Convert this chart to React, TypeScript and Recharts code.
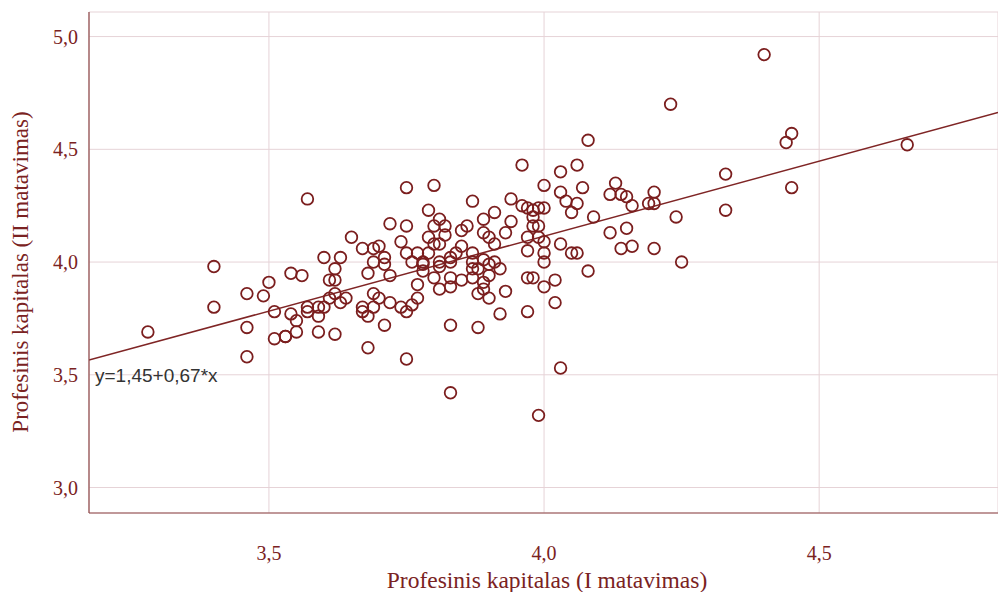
import React from 'react';
import { ScatterChart, Scatter, XAxis, YAxis, CartesianGrid, ReferenceLine, Label } from 'recharts';

// Profesinis kapitalas (I matavimas)
const measureI = [
  3.28, 3.40, 3.40, 3.46, 3.49, 3.50, 3.51, 3.46, 3.46, 3.51, 3.53,
  3.57, 3.75, 3.72, 3.75, 3.65, 3.74, 3.67, 3.69, 3.70, 3.75, 3.77, 3.60, 3.63, 3.71, 3.62, 3.69, 3.71, 3.76, 3.54, 3.56, 3.61, 3.62, 3.68, 3.72,
  3.77, 3.62, 3.61, 3.64, 3.69, 3.70, 3.77, 3.63, 3.57, 3.59, 3.60, 3.72, 3.76, 3.67, 3.69, 3.74, 3.75, 3.54, 3.57, 3.59, 3.67, 3.68, 3.55, 3.53, 3.55, 3.59, 3.62, 3.71, 3.68, 3.75,
  3.96, 3.80, 3.87, 3.94, 4.00, 3.79, 3.96, 3.97, 3.98, 3.99, 3.91, 3.89, 3.98, 3.81, 3.94, 3.86, 3.80, 3.82, 3.85, 3.98, 3.99, 3.89, 3.93, 3.82, 3.79, 3.90, 3.97, 3.99,
  3.80, 3.81, 3.85, 3.91, 3.97, 4.00, 3.79, 3.84, 3.87, 3.78, 3.78, 3.81, 3.83, 3.83, 3.87, 3.89, 3.90, 3.91, 3.92, 3.87, 3.88, 3.78, 3.81, 3.80, 3.83, 3.85, 3.87, 3.89, 3.90, 3.97, 3.98, 4.00, 3.81, 3.83, 3.89, 3.93, 3.88, 3.90, 3.92, 3.97, 3.83, 3.88,
  3.83, 3.99,
  4.08, 4.06, 4.03, 4.07, 4.03, 4.04, 4.00, 4.06, 4.05, 4.09, 4.13, 4.12, 4.14, 4.15, 4.20, 4.16, 4.19, 4.20, 4.12, 4.15,
  4.00, 4.03, 4.05, 4.06, 4.14, 4.16, 4.20, 4.00, 4.08, 4.02, 4.02,
  4.03,
  4.23, 4.45, 4.44, 4.33, 4.45, 4.33, 4.24, 4.25, 4.66, 4.40,
];

// Profesinis kapitalas (II matavimas)
const measureII = [
  3.69, 3.98, 3.80, 3.86, 3.85, 3.91, 3.78, 3.71, 3.58, 3.66, 3.67,
  4.28, 4.33, 4.17, 4.16, 4.11, 4.09, 4.06, 4.06, 4.07, 4.04, 4.04, 4.02, 4.02, 4.02, 3.97, 4.00, 3.99, 4.00, 3.95, 3.94, 3.92, 3.92, 3.95, 3.94,
  3.90, 3.86, 3.84, 3.84, 3.86, 3.84, 3.84, 3.82, 3.80, 3.80, 3.80, 3.82, 3.81, 3.80, 3.80, 3.80, 3.78, 3.77, 3.78, 3.76, 3.78, 3.76, 3.74, 3.67, 3.69, 3.69, 3.68, 3.72, 3.62, 3.57,
  4.43, 4.34, 4.27, 4.28, 4.34, 4.23, 4.25, 4.24, 4.23, 4.24, 4.22, 4.19, 4.20, 4.19, 4.18, 4.16, 4.16, 4.16, 4.14, 4.16, 4.16, 4.13, 4.13, 4.12, 4.11, 4.11, 4.11, 4.11,
  4.08, 4.08, 4.07, 4.08, 4.05, 4.04, 4.04, 4.04, 4.04, 4.00, 3.99, 4.00, 4.02, 4.00, 4.00, 4.01, 3.99, 4.00, 3.97, 3.97, 3.97, 3.96, 3.98, 3.93, 3.93, 3.92, 3.93, 3.91, 3.94, 3.93, 3.93, 3.89, 3.88, 3.89, 3.88, 3.87, 3.86, 3.84, 3.77, 3.78, 3.72, 3.71,
  3.42, 3.32,
  4.54, 4.43, 4.40, 4.33, 4.31, 4.27, 4.24, 4.26, 4.22, 4.20, 4.35, 4.30, 4.30, 4.29, 4.31, 4.25, 4.26, 4.26, 4.13, 4.15,
  4.09, 4.08, 4.04, 4.04, 4.06, 4.07, 4.06, 4.00, 3.96, 3.92, 3.82,
  3.53,
  4.70, 4.57, 4.53, 4.39, 4.33, 4.23, 4.20, 4.00, 4.52, 4.92,
];

const xTicks = [3.5, 4.0, 4.5];
const yTicks = [3.0, 3.5, 4.0, 4.5, 5.0];
const xDomain: [number, number] = [3.173, 4.825];
const yDomain: [number, number] = [2.887, 5.109];

// regression y = 1,45 + 0,67 * x
const regIntercept = 1.455;
const regSlope = 0.665;
const regLabel = 'y=1,45+0,67*x';

const xTitle = 'Profesinis kapitalas (I matavimas)';
const yTitle = 'Profesinis kapitalas (II matavimas)';

const data = measureI.map((x, i) => ({ x, y: measureII[i] }));

const TEXT_COLOR = '#7a2222';
const MARK_COLOR = '#7b1e1e';
const GRID_COLOR = '#e6d3d7';
const AXIS_COLOR = '#8e4848';
const SERIF = '"Liberation Serif", "Times New Roman", serif';

const fmt = (v: number) => v.toFixed(1).replace('.', ',');

const Ring = (props: any) => {
  const { cx, cy } = props;
  if (cx == null || cy == null) return null;
  return <circle cx={cx} cy={cy} r={5.8} fill="none" stroke={MARK_COLOR} strokeWidth={1.8} />;
};

export default function App() {
  return (
    <div style={{ position: 'absolute', left: 0, top: 0, width: 998, height: 592, background: '#fff' }}>
      <ScatterChart width={998} height={592} margin={{ top: 12, right: 0, bottom: 0, left: 0 }}>
        <CartesianGrid stroke={GRID_COLOR} strokeWidth={1} />
        <XAxis
          type="number"
          dataKey="x"
          domain={xDomain}
          ticks={xTicks}
          allowDataOverflow
          height={79}
          tickSize={0}
          tickMargin={33}
          tickLine={false}
          axisLine={{ stroke: AXIS_COLOR, strokeWidth: 1.2 }}
          tickFormatter={fmt}
          tick={{ fill: TEXT_COLOR, fontSize: 20, fontFamily: SERIF }}
        >
          <Label
            content={() => (
              <text x={547} y={588} textAnchor="middle" fill={TEXT_COLOR} fontSize={23.5} fontFamily={SERIF}>
                {xTitle}
              </text>
            )}
          />
        </XAxis>
        <YAxis
          type="number"
          dataKey="y"
          domain={yDomain}
          ticks={yTicks}
          allowDataOverflow
          width={89}
          tickSize={0}
          tickMargin={11}
          tickLine={false}
          axisLine={{ stroke: AXIS_COLOR, strokeWidth: 1.2 }}
          tickFormatter={fmt}
          tick={{ fill: TEXT_COLOR, fontSize: 20, fontFamily: SERIF }}
        >
          <Label
            content={() => (
              <text
                x={28}
                y={272}
                transform="rotate(-90 28 272)"
                textAnchor="middle"
                fill={TEXT_COLOR}
                fontSize={23}
                fontFamily={SERIF}
              >
                {yTitle}
              </text>
            )}
          />
        </YAxis>
        <ReferenceLine
          segment={[
            { x: xDomain[0], y: regIntercept + regSlope * xDomain[0] },
            { x: xDomain[1], y: regIntercept + regSlope * xDomain[1] },
          ]}
          stroke="#7f2525"
          strokeWidth={1.5}
          ifOverflow="hidden"
          label={{
            content: () => (
              <text x={95} y={382} fill="#333" fontSize={19} fontFamily='"Liberation Sans", Arial, sans-serif'>
                {regLabel}
              </text>
            ),
          }}
        />
        <Scatter data={data} shape={<Ring />} isAnimationActive={false} />
      </ScatterChart>
    </div>
  );
}
